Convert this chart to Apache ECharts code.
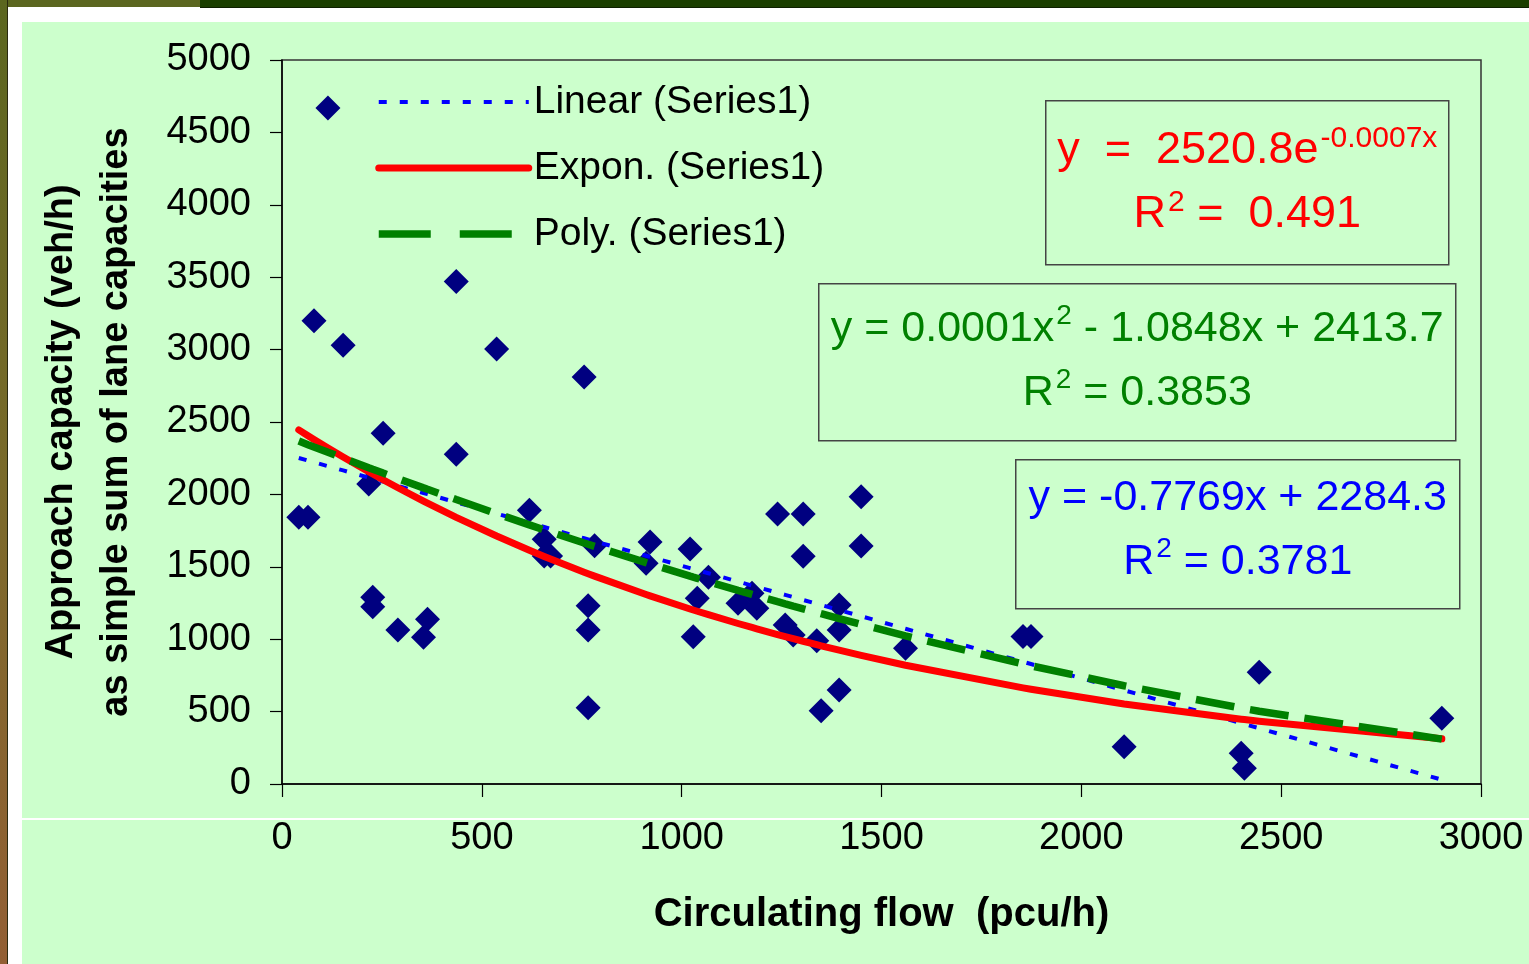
<!DOCTYPE html>
<html>
<head>
<meta charset="utf-8">
<title>Approach capacity vs circulating flow</title>
<script src="https://cdn.jsdelivr.net/npm/echarts@6/dist/echarts.min.js"></script>
<style>
  html, body { margin: 0; padding: 0; width: 1529px; height: 964px; overflow: hidden; background: #ffffff; }
  #frameTopL { position: absolute; left: 0; top: 0; width: 200px; height: 7px; background: #5b661f; }
  #frameTopR { position: absolute; left: 200px; top: 0; width: 1329px; height: 7px; background: #1b3f00; border-bottom: 1px solid #0d2000; }
  #frameLeft { position: absolute; left: 0; top: 0; width: 7px; height: 964px; background: linear-gradient(#5b661f, #7a6a2a 50%, #935f34); border-right: 1px solid #2a2a10; }
  #panel { position: absolute; left: 22px; top: 22px; width: 1507px; height: 942px; background: #ccffcc; }
  #chart { position: absolute; left: 0; top: 0; width: 1529px; height: 964px; }
</style>
</head>
<body>
<div id="frameTopL"></div>
<div id="frameTopR"></div>
<div id="frameLeft"></div>
<div id="panel"></div>
<div id="chart"></div>
<script>
// Observed approach capacities against circulating flow
const flow = [42, 65, 80, 115, 153, 217, 227, 227, 253, 290, 354, 364, 436, 436, 537, 619,
  656, 656, 672, 756, 766, 766, 766, 782, 911, 921, 1021, 1029, 1039, 1067, 1141, 1176,
  1188, 1240, 1304, 1259, 1279, 1304, 1338, 1349, 1394, 1394, 1394, 1449, 1449, 1560,
  1854, 1874, 2107, 2400, 2408, 2445, 2902];
const capacity = [1842, 1842, 3200, 4668, 3030, 2072, 1289, 1224, 2422, 1063, 1013, 1137, 3470, 2277, 3004, 1890,
  1690, 1575, 1575, 2811, 1231, 1064, 527, 1646, 1524, 1671, 1623, 1017, 1282, 1427, 1248, 1317,
  1213, 1865, 1865, 1098, 1029, 1572, 990, 506, 1236, 1064, 649, 1984, 1644, 937,
  1019, 1019, 258, 212, 108, 771, 454];

// Fitted trendline coefficients and their goodness of fit
const linearFit = { slope: -0.7769, intercept: 2284.3, r2: '0.3781' };
const exponFit = { a: 2520.8, b: -0.00072, r2: '0.491' };
const polyFit = { a2: 0.000124, a1: -1.0848, a0: 2413.7, r2: '0.3853' };

const xTicks = [0, 500, 1000, 1500, 2000, 2500, 3000];
const yTicks = [0, 500, 1000, 1500, 2000, 2500, 3000, 3500, 4000, 4500, 5000];

const points = flow.map((x, i) => [x, capacity[i]]);
const sortedX = Array.from(new Set(flow)).sort((a, b) => a - b);
const linearLine = sortedX.map(x => [x, linearFit.slope * x + linearFit.intercept]);
const exponLine = sortedX.map(x => [x, exponFit.a * Math.exp(exponFit.b * x)]);
const polyLine = sortedX.map(x => [x, polyFit.a2 * x * x + polyFit.a1 * x + polyFit.a0]);

const FONT = '"Liberation Sans", Arial, sans-serif';

// Trendline styles, shared by the plotted lines and the legend samples
const linearStyle = { color: '#0000ff', width: 4, type: [8, 13] };
const exponStyle = { color: '#ff0000', width: 7, cap: 'round', join: 'round' };
const polyStyle = { color: '#008000', width: 7.5, type: [39, 16] };

// Equation text built from the same coefficients used for the lines
const sign = v => (v < 0 ? '- ' : '+ ');
const exponText = ['{t|y  =  ' + exponFit.a.toFixed(1) + 'e}{s|' + exponFit.b.toFixed(4) + 'x}',
                   '{t|R}{s|2}{t| =  ' + exponFit.r2 + '}'].join('\n');
const polyText = ['{t|y = ' + polyFit.a2.toFixed(4) + 'x}{s|2}{t| ' + sign(polyFit.a1) + Math.abs(polyFit.a1).toFixed(4) +
                  'x ' + sign(polyFit.a0) + polyFit.a0.toFixed(1) + '}',
                  '{t|R}{s|2}{t| = ' + polyFit.r2 + '}'].join('\n');
const linearText = ['{t|y = ' + linearFit.slope.toFixed(4) + 'x ' + sign(linearFit.intercept) + linearFit.intercept.toFixed(1) + '}',
                    '{t|R}{s|2}{t| = ' + linearFit.r2 + '}'].join('\n');

function eqBox(x, y, w, h, text, color, size, dy) {
  return {
    type: 'group', left: x, top: y, z: 50,
    children: [
      { type: 'rect', shape: { x: 0, y: 0, width: w, height: h },
        style: { fill: '#ccffcc', stroke: '#444', lineWidth: 1.5 } },
      { type: 'text', x: w / 2, y: h / 2 + dy,
        style: {
          text: text, align: 'center', verticalAlign: 'middle', fill: color,
          rich: {
            t: { fontSize: size, fontFamily: FONT, fill: color, lineHeight: 64, verticalAlign: 'middle' },
            s: { fontSize: Math.round(size * 0.66), fontFamily: FONT, fill: color, lineHeight: 64, verticalAlign: 'top', padding: [5, 0, 0, 2] }
          }
        } }
    ]
  };
}

const chart = echarts.init(document.getElementById('chart'), null, { renderer: 'canvas' });
chart.setOption({
  backgroundColor: 'transparent',
  animation: false,
  grid: { left: 282, right: 48, top: 60, bottom: 180, show: true, borderColor: '#333', borderWidth: 1.5, backgroundColor: 'transparent' },
  xAxis: {
    type: 'value', min: xTicks[0], max: xTicks[xTicks.length - 1], interval: 500,
    splitLine: { show: false },
    axisLine: { lineStyle: { color: '#000', width: 1.5 } },
    axisTick: { length: 13, lineStyle: { color: '#000', width: 1.2 } },
    axisLabel: { fontSize: 38, fontFamily: FONT, color: '#000', margin: 36, formatter: v => String(v) },
    name: 'Circulating flow  (pcu/h)', nameLocation: 'middle', nameGap: 111,
    nameTextStyle: { fontSize: 40, fontWeight: 'bold', fontFamily: FONT, color: '#000' }
  },
  yAxis: {
    type: 'value', min: yTicks[0], max: yTicks[yTicks.length - 1], interval: 500,
    splitLine: { show: false },
    axisLine: { lineStyle: { color: '#000', width: 1.5 } },
    axisTick: { length: 12, lineStyle: { color: '#000', width: 1.2 } },
    axisLabel: { fontSize: 38, fontFamily: FONT, color: '#000', margin: 31, formatter: v => String(v) },
    name: 'Approach capacity (veh/h)\nas simple sum of lane capacities', nameLocation: 'middle', nameGap: 138, nameRotate: 90,
    nameTextStyle: { fontSize: 38, fontWeight: 'bold', fontFamily: FONT, color: '#000', lineHeight: 55 }
  },
  legend: {
    orient: 'vertical', left: 375, top: 82, padding: 0, itemWidth: 150, itemHeight: 10, itemGap: 26,
    selectedMode: false,
    itemStyle: { opacity: 0 },
    data: [
      { name: 'Linear (Series1)', lineStyle: linearStyle },
      { name: 'Expon. (Series1)', lineStyle: exponStyle },
      { name: 'Poly. (Series1)', lineStyle: Object.assign({}, polyStyle, { type: [52, 29] }) }
    ],
    textStyle: { fontSize: 39, fontFamily: FONT, color: '#000', lineHeight: 40, padding: 0 }
  },
  series: [
    { name: 'Series1', type: 'scatter', data: points, symbol: 'diamond', symbolSize: 25,
      itemStyle: { color: '#000080', opacity: 1 }, z: 2 },
    { name: 'Linear (Series1)', type: 'line', data: linearLine, symbol: 'none', z: 3, lineStyle: linearStyle },
    { name: 'Expon. (Series1)', type: 'line', data: exponLine, symbol: 'none', z: 4, lineStyle: exponStyle },
    { name: 'Poly. (Series1)', type: 'line', data: polyLine, symbol: 'none', z: 5, lineStyle: polyStyle }
  ],
  graphic: [
    { type: 'line', shape: { x1: 22, y1: 819, x2: 1529, y2: 819 }, style: { stroke: '#ffffff', lineWidth: 2 }, z: 0 },
    eqBox(1045, 100, 403, 164, exponText, '#ff0000', 45, 0),
    eqBox(818, 283, 637, 157, polyText, '#008000', 43, -1),
    eqBox(1015, 459, 444, 149, linearText, '#0000ff', 43, -4)
  ]
});
</script>
</body>
</html>
